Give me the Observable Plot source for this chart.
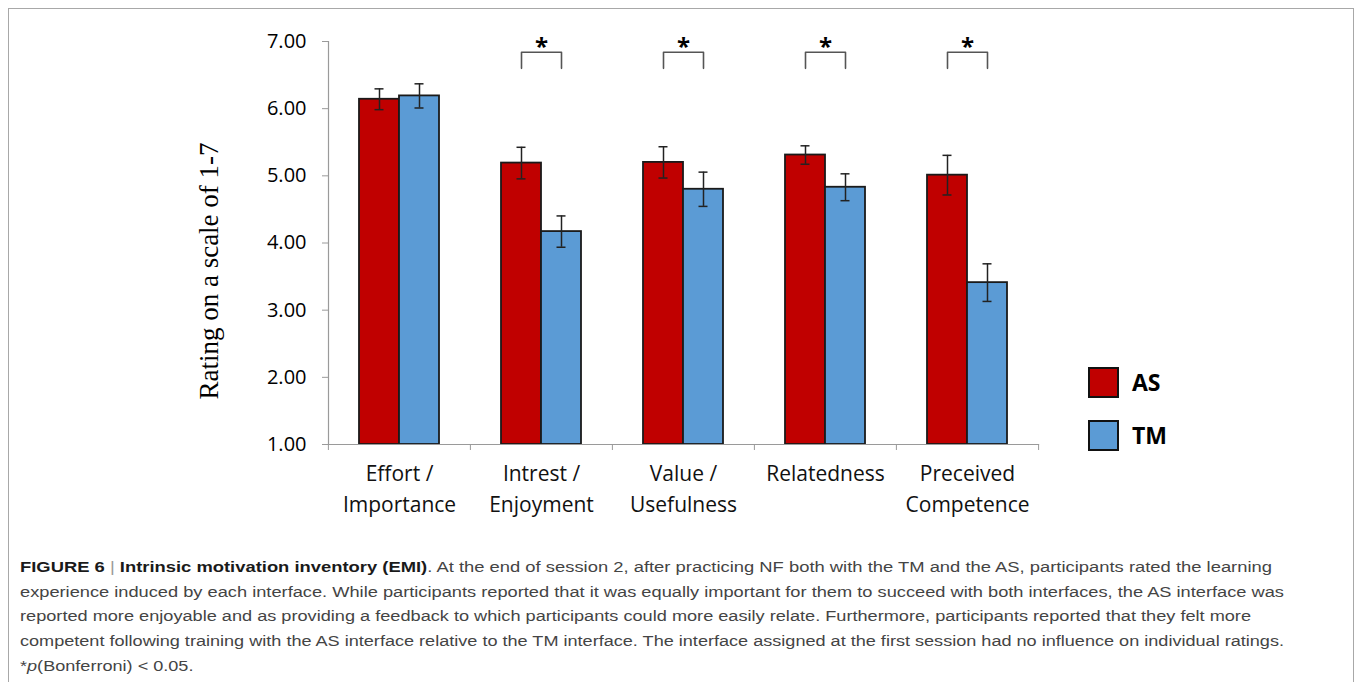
<!DOCTYPE html>
<html>
<head>
<meta charset="utf-8">
<script src="https://cdn.jsdelivr.net/npm/d3@7"></script>
<script src="https://cdn.jsdelivr.net/npm/@observablehq/plot@0.6"></script>
<style>
  body { margin: 0; background: #fff; width: 1357px; height: 682px; overflow: hidden; position: relative; }
  #frame { position: absolute; left: 8px; top: 8px; width: 1346px; height: 720px; border: 1.5px solid #a8a8a8; border-bottom: none; box-sizing: border-box; }
  #chart { position: absolute; left: 0; top: 0; }
  #legend { position: absolute; left: 1089px; top: 366px; }
  #legend .leg-swatches { flex-direction: column; align-items: flex-start; row-gap: 21px; font: bold 23px "Open Sans", sans-serif !important; color: #000; margin: 0; }
  #legend .leg-swatch { margin: 0 !important; display: flex; align-items: center; }
  #legend .leg-swatch svg { overflow: visible; margin-right: 14px !important; }
  #legend .leg-swatch rect { stroke: #111; stroke-width: 2px; }
  #caption { position: absolute; left: 20px; top: 555px; font-family: "Liberation Sans", Arial, sans-serif; font-size: 15.5px; line-height: 24.7px; color: #444; }
  #caption .ln { display: block; white-space: nowrap; width: max-content; transform-origin: left center; }
  #caption b { color: #1a1a1a; }
  #caption .sep { color: #999; font-weight: normal; }
</style>
</head>
<body>
<div id="frame"></div>
<div id="chart"></div>
<div id="legend"></div>
<div id="caption">
  <span class="ln" data-w="1252"><b>FIGURE 6</b> <span class="sep">|</span> <b>Intrinsic motivation inventory (EMI)</b>. At the end of session 2, after practicing NF both with the TM and the AS, participants rated the learning</span>
  <span class="ln" data-w="1264">experience induced by each interface. While participants reported that it was equally important for them to succeed with both interfaces, the AS interface was</span>
  <span class="ln" data-w="1231">reported more enjoyable and as providing a feedback to which participants could more easily relate. Furthermore, participants reported that they felt more</span>
  <span class="ln" data-w="1264">competent following training with the AS interface relative to the TM interface. The interface assigned at the first session had no influence on individual ratings.</span>
  <span class="ln">*<i>p</i>(Bonferroni) &lt; 0.05.</span>
</div>
<script>
// Intrinsic motivation ratings per subscale, for the two feedback interfaces
const categories = ["Effort /\nImportance", "Intrest /\nEnjoyment", "Value /\nUsefulness", "Relatedness", "Preceived\nCompetence"];
const series = ["AS", "TM"];
const asMeans = [6.14, 5.19, 5.20, 5.31, 5.01];
const asErrors = [0.155, 0.235, 0.233, 0.137, 0.295];
const tmMeans = [6.19, 4.17, 4.80, 4.83, 3.41];
const tmErrors = [0.18, 0.233, 0.255, 0.20, 0.28];
const significant = [false, true, true, true, true];
const yTicks = [1, 2, 3, 4, 5, 6, 7];
const colors = ["#C00000", "#5B9BD5"];

const rows = categories.flatMap((c, i) => [
  {category: c, group: "AS", mean: asMeans[i], err: asErrors[i]},
  {category: c, group: "TM", mean: tmMeans[i], err: tmErrors[i]}
]);

// significance brackets spanning the two bars of a subscale
const sigCats = categories.filter((c, i) => significant[i]);
const bracketLow = 6.6, bracketHigh = 6.84;
const brackets = sigCats.flatMap(c => [
  {category: c, group: "AS", y: bracketLow},
  {category: c, group: "AS", y: bracketHigh},
  {category: c, group: "TM", y: bracketHigh},
  {category: c, group: "TM", y: bracketLow}
]);

const W = 1357, H = 530, mL = 327, mR = 319, mT = 41, mB = H - 444;
const bandW = (W - mL - mR) / categories.length;
const axisGray = "#9a9a9a";

const chart = Plot.plot({
  width: W, height: H,
  marginLeft: mL, marginRight: mR, marginTop: mT, marginBottom: mB,
  style: {fontFamily: "'Open Sans', sans-serif", fontSize: "20px", color: "#000", background: "transparent", overflow: "visible"},
  fx: {domain: categories, padding: 0, label: null},
  x: {domain: series, paddingInner: 0, paddingOuter: 0.775, axis: null},
  y: {domain: [1, 7], axis: null},
  color: {domain: series, range: colors},
  marks: [
    Plot.barY(rows, {fx: "category", x: "group", y1: 1, y2: "mean", fill: "group", stroke: "#1a1a1a", strokeWidth: 1.8}),
    Plot.ruleX(rows, {fx: "category", x: "group", y1: d => d.mean - d.err, y2: d => d.mean + d.err, stroke: "#222", strokeWidth: 1.5}),
    Plot.tickY(rows, {fx: "category", x: "group", y: d => d.mean + d.err, insetLeft: 15.5, insetRight: 15.5, stroke: "#222", strokeWidth: 1.5}),
    Plot.tickY(rows, {fx: "category", x: "group", y: d => d.mean - d.err, insetLeft: 15.5, insetRight: 15.5, stroke: "#222", strokeWidth: 1.5}),
    Plot.line(brackets, {fx: "category", x: "group", y: "y", z: "category", stroke: "#555", strokeWidth: 1.6, strokeLinejoin: "round"}),
    Plot.text(sigCats, {fx: d => d, text: () => "*", frameAnchor: "top", dy: -4, fontSize: 24, fontWeight: "bold", fill: "#000"}),
    Plot.frame({anchor: "left", facet: "super", stroke: axisGray, strokeWidth: 1.2}),
    Plot.frame({anchor: "bottom", facet: "super", stroke: axisGray, strokeWidth: 1.2}),
    Plot.axisY({ticks: yTicks, tickFormat: d3.format(".2f"), tickSize: 6, tickPadding: 16, stroke: axisGray, fill: "#000", label: null}),
    Plot.axisFx({anchor: "bottom", tickSize: 6, text: null, dx: -bandW / 2, stroke: axisGray, label: null}),
    Plot.axisFx({anchor: "bottom", ticks: categories.slice(-1), tickSize: 6, text: null, dx: bandW / 2, stroke: axisGray, label: null}),
    Plot.axisFx({anchor: "bottom", tickSize: 0, tickPadding: 15, lineHeight: 1.45, fill: "#111", fontSize: 21, label: null}),
    Plot.text(["Rating on a scale of 1-7"], {facet: "super", frameAnchor: "left", textAnchor: "middle", rotate: -90, dx: -119, dy: 28, fontFamily: "'Liberation Serif', serif", fontSize: 27, fill: "#000"})
  ]
});
document.getElementById("chart").appendChild(chart);

const legend = Plot.legend({color: {domain: series, range: colors}, legend: "swatches", swatchSize: 29, className: "leg"});
document.getElementById("legend").appendChild(legend);

// fit each caption line to its column width
let lastScale = 1;
document.querySelectorAll("#caption .ln").forEach(el => {
  const w = el.getBoundingClientRect().width;
  const target = +el.dataset.w;
  const s = target ? target / w : lastScale;
  el.style.transform = `scaleX(${s})`;
  lastScale = s;
});
</script>
</body>
</html>
